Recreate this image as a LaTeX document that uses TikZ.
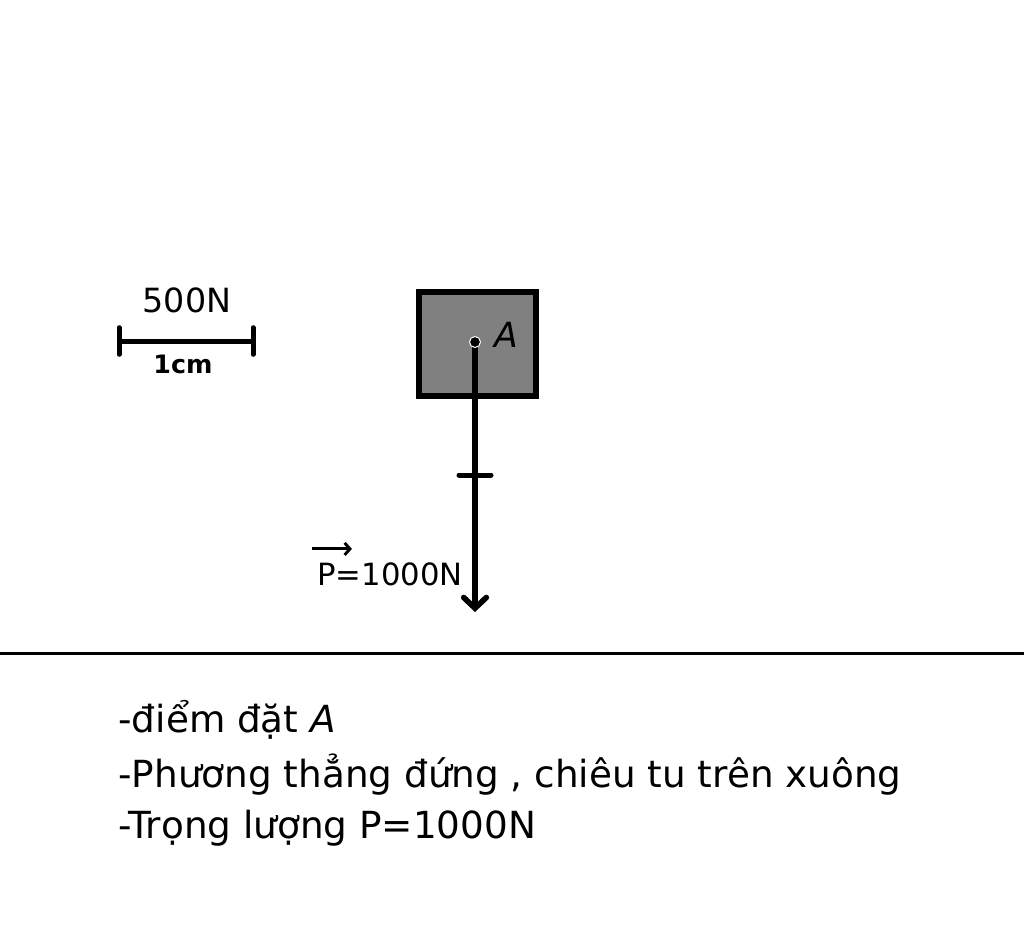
\documentclass[tikz,border=0pt]{standalone}
\usepackage{fontspec}
\setmainfont{DejaVu Sans}
\usetikzlibrary{arrows.meta}
\tikzset{every picture/.style={line width=0.75pt}}

\begin{document}
\begin{tikzpicture}[x=0.75pt,y=0.75pt,yscale=-1,xscale=1]
\useasboundingbox (0,0) rectangle (1024,952);

%Straight Lines [id:ground]
\draw [line width=2.25pt] (0,653) -- (1024,653) ;
%Shape: Rectangle [id:block]
\draw [line width=4.5pt, fill={rgb, 255:red, 128; green, 128; blue, 128 }] (419,292) rectangle (536,396) ;

%Scale bar [id:scale]
\coordinate (scaleL) at (119,341);
\coordinate (scaleR) at (253,341);
\draw [line width=3.75pt] (scaleL) -- (scaleR) ;
\draw [line width=3.75pt, line cap=round] ([yshift=-10]scaleL) -- ([yshift=10]scaleL) ;
\draw [line width=3.75pt, line cap=round] ([yshift=-10]scaleR) -- ([yshift=10]scaleR) ;

%Vector P [id:weight]
\coordinate (pA) at (475,342);
\coordinate (pEnd) at (475,612);
\coordinate (pTick) at (475,475);
\draw [line width=4.2pt, -{Straight Barb[length=8pt,width=17pt,line cap=round]}] (pA) -- (pEnd) ;
\draw [line width=3.75pt, line cap=round] ([xshift=-12]pTick) -- ([xshift=12]pTick) ;
%Shape: Circle [id:pointA]
\draw [fill=black, draw=white, line width=0.75pt] (pA) circle (5.5) ;

% Text Node
\draw (187,300) node [inner sep=0.75pt, font=\fontsize{25}{30}\selectfont] (lblForce) {500N};
% Text Node
\draw (183,364) node [inner sep=0.75pt, font=\fontsize{19}{23}\selectfont\bfseries] (lblLength) {1cm};
% Text Node
\draw (506,335) node [inner sep=0.75pt, font=\fontsize{26}{30}\selectfont\itshape] (lblA) {A};
% Text Node
\draw (390,574) node [inner sep=0.75pt, font=\fontsize{23}{28}\selectfont] (lblP) {P=1000N};
%Straight Lines [id:vecbar]
\draw [line width=2.2pt, -{Straight Barb[length=4pt,width=9pt]}] ([xshift=-3,yshift=-9]lblP.north west) -- ([xshift=27,yshift=-9]lblP.north west) ;

% Text Node
\draw (117,720) node [anchor=west, inner sep=0.75pt, font=\fontsize{28}{33}\selectfont] (line1) {-điểm đặt \textit{A}};
% Text Node
\draw (117,775) node [anchor=west, inner sep=0.75pt, font=\fontsize{28}{33}\selectfont] (line2) {-Phương thẳng đứng , chiêu tu trên xuông};
% Text Node
\draw (117,828) node [anchor=west, inner sep=0.75pt, font=\fontsize{28}{33}\selectfont] (line3) {-Trọng lượng P=1000N};

\end{tikzpicture}
\end{document}
